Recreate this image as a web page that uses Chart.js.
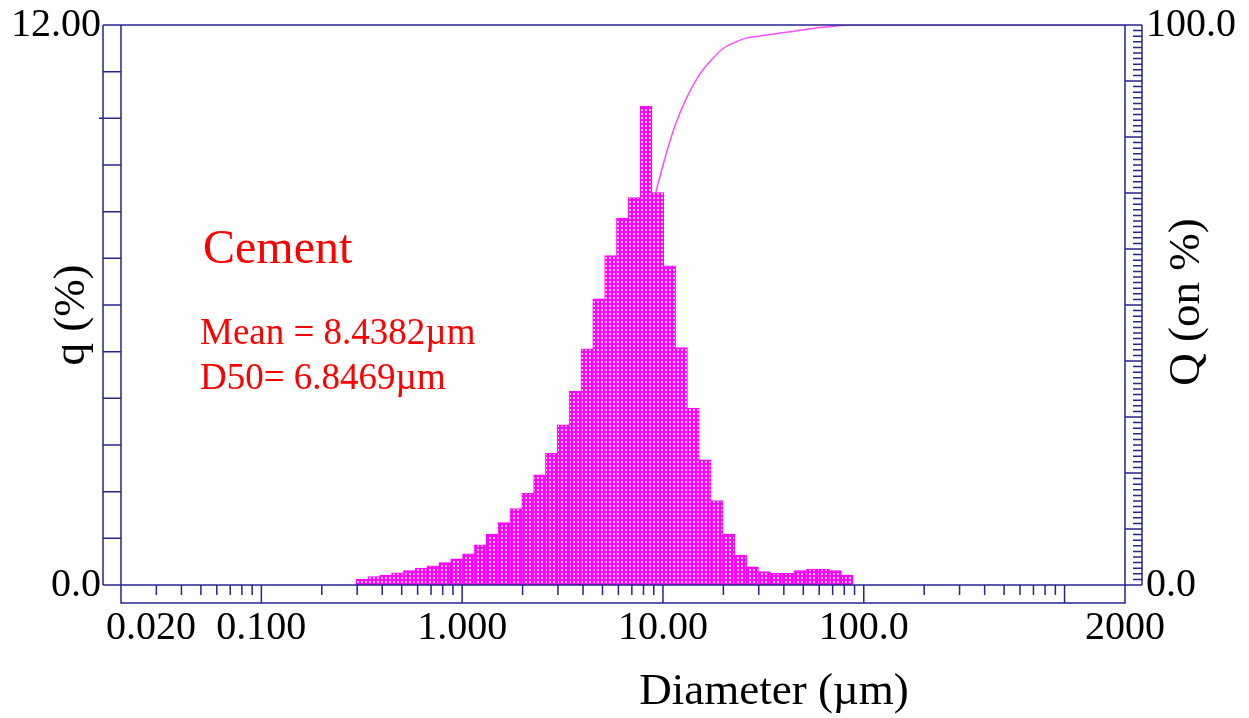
<!DOCTYPE html>
<html>
<head>
<meta charset="utf-8">
<script src="https://cdn.jsdelivr.net/npm/chart.js@4/dist/chart.umd.min.js"></script>
<style>
  html, body { margin: 0; padding: 0; background: #fff; }
  #wrap { width: 1249px; height: 718px; }
</style>
</head>
<body>
<div id="wrap"><canvas id="psd"></canvas></div>
<script>
// analyser channel edges (um), only the occupied ones
const binEdges = [0.296, 0.339, 0.389, 0.445, 0.510, 0.584, 0.669, 0.766, 0.877, 1.005,
  1.151, 1.318, 1.510, 1.729, 1.981, 2.269, 2.599, 2.976, 3.409, 3.905,
  4.472, 5.122, 5.867, 6.720, 7.697, 8.816, 10.097, 11.565, 13.246, 15.172,
  17.377, 19.904, 22.797, 26.111, 29.907, 34.255, 39.234, 44.938, 51.471, 58.953,
  67.523, 77.339, 88.583];

// q (%) per channel
const qPercent = [0.12, 0.18, 0.21, 0.26, 0.31, 0.36, 0.41, 0.48, 0.56, 0.67,
  0.86, 1.09, 1.34, 1.64, 1.97, 2.36, 2.82, 3.43, 4.15, 5.06,
  6.13, 7.06, 7.86, 8.30, 10.26, 8.41, 6.84, 5.09, 3.79, 2.68,
  1.81, 1.09, 0.64, 0.39, 0.29, 0.25, 0.25, 0.31, 0.34, 0.34,
  0.31, 0.21];

// Q (on %) read at the channel edges, last point at 2000 um
const cumSizes = binEdges.concat([2000]);
const cumPercent = [0, 0.1, 0.3, 0.5, 0.8, 1.1, 1.4, 1.8, 2.3, 2.8,
  3.5, 4.3, 5.4, 6.7, 8.3, 10.3, 12.6, 15.4, 18.8, 22.9,
  27.9, 34.0, 41.0, 48.8, 57.0, 67.2, 75.5, 82.3, 87.3, 91.1,
  93.7, 95.8, 96.9, 97.7, 98.0, 98.3, 98.6, 98.9, 99.2, 99.5,
  99.7, 99.9, 100.0, 100.0];

const xTickValues = [0.02, 0.1, 1, 10, 100, 2000];
// first label sits to the right of the axis end in the original print
const xTickLabels = ['      0.020', '0.100', '1.000', '10.00', '100.0', '2000'];
const yTickValues = [0, 12];
const yTickLabels = ['0.0', '12.00'];
const y2TickValues = [0, 100];
const y2TickLabels = ['0.0', '100.0'];

const NAVY = '#26268f';
const MAG = '#ff00ff';
const SERIF = '"Liberation Serif", "Times New Roman", serif';

// hatch fill like the analyser print-out
const pc = document.createElement('canvas');
pc.width = 4; pc.height = 4;
const pctx = pc.getContext('2d');
pctx.fillStyle = MAG;
pctx.fillRect(0, 0, 4, 4);
pctx.fillStyle = '#ffc8ff';
pctx.fillRect(1, 1, 2, 2);
const hatch = pctx.createPattern(pc, 'repeat');

const barData = qPercent.map((q, i) => ({ x: Math.sqrt(binEdges[i] * binEdges[i + 1]), y: q }));
const lineData = cumPercent.map((c, i) => ({ x: cumSizes[i], y: c }));

const frame = {
  id: 'frame',
  afterDraw(chart) {
    const { ctx, chartArea: a, scales } = chart;
    const L = a.left, R = a.right, T = a.top, B = a.bottom;
    const outL = L - 18, outR = R + 17, low = B + 18;
    ctx.save();
    ctx.strokeStyle = NAVY;
    ctx.lineWidth = 1.5;
    ctx.beginPath();
    ctx.rect(L, T, R - L, low - T);
    ctx.moveTo(outL, T); ctx.lineTo(outR, T);
    ctx.moveTo(outL, T); ctx.lineTo(outL, B);
    ctx.moveTo(outL, B); ctx.lineTo(outR, B);
    ctx.moveTo(outR, T); ctx.lineTo(outR, B);
    // left ticks
    for (let v = 1; v < 12; v++) {
      const y = scales.y.getPixelForValue(v);
      ctx.moveTo(v === 10 ? outL - 4 : outL, y); ctx.lineTo(L, y);
    }
    // right ticks
    for (let v = 1; v < 100; v++) {
      const y = scales.y2.getPixelForValue(v);
      ctx.moveTo(v % 10 === 0 ? R : outR - 9, y); ctx.lineTo(outR, y);
    }
    // bottom ticks
    [0.01, 0.1, 1, 10, 100, 1000].forEach(d => {
      for (let k = 1; k < 10; k++) {
        const v = k * d;
        if (v <= 0.02 || v >= 2000) continue;
        const x = scales.x.getPixelForValue(v);
        ctx.moveTo(x, B); ctx.lineTo(x, k === 1 ? low : B + 10);
      }
    });
    ctx.stroke();

    // axis titles
    ctx.fillStyle = '#000';
    ctx.font = '45px ' + SERIF;
    ctx.textAlign = 'center';
    ctx.textBaseline = 'middle';
    ctx.fillText('Diameter (\u00b5m)', 774, 692);
    ctx.save();
    ctx.translate(72, 315); ctx.rotate(-Math.PI / 2);
    ctx.fillText('q (%)', 0, 0);
    ctx.restore();
    ctx.save();
    ctx.translate(1187, 302); ctx.rotate(-Math.PI / 2);
    ctx.fillText('Q (on %)', 0, 0);
    ctx.restore();

    // sample notes
    ctx.fillStyle = '#ff0000';
    ctx.textAlign = 'left';
    ctx.textBaseline = 'alphabetic';
    ctx.font = '48px ' + SERIF;
    ctx.fillText('Cement', 203, 263);
    ctx.font = '37px ' + SERIF;
    ctx.fillText('Mean = 8.4382\u00b5m', 200, 344);
    ctx.fillText('D50= 6.8469\u00b5m', 200, 389);
    ctx.restore();
  }
};

const tickFont = { family: SERIF, size: 40 };

new Chart(document.getElementById('psd'), {
  type: 'bar',
  data: {
    datasets: [{
      type: 'bar',
      data: barData,
      backgroundColor: hatch,
      borderColor: MAG,
      borderWidth: 1,
      barPercentage: 1,
      categoryPercentage: 1,
      yAxisID: 'y',
      order: 1
    }, {
      type: 'line',
      data: lineData,
      borderColor: '#ff4dff',
      borderWidth: 1.5,
      pointRadius: 0,
      fill: false,
      cubicInterpolationMode: 'monotone',
      yAxisID: 'y2',
      order: 2
    }]
  },
  options: {
    responsive: true,
    maintainAspectRatio: false,
    animation: false,
    layout: { padding: { top: 25, left: 0, right: 0, bottom: 0 } },
    plugins: { legend: { display: false }, tooltip: { enabled: false } },
    scales: {
      x: {
        type: 'logarithmic',
        min: 0.02,
        max: 2000,
        position: 'bottom',
        grid: { display: false, drawTicks: false },
        border: { display: false },
        afterBuildTicks: s => { s.ticks = xTickValues.map(v => ({ value: v })); },
        afterFit: s => { s.height = 133; s.paddingLeft = 0; s.paddingRight = 0; },
        ticks: {
          autoSkip: false, maxRotation: 0, padding: 19, color: '#000', font: tickFont,
          callback: (v, i) => xTickLabels[i]
        }
      },
      y: {
        type: 'linear',
        min: 0,
        max: 12,
        position: 'left',
        grid: { display: false, drawTicks: false },
        border: { display: false },
        afterBuildTicks: s => { s.ticks = yTickValues.map(v => ({ value: v })); },
        afterFit: s => { s.width = 121; s.paddingTop = 0; s.paddingBottom = 0; },
        ticks: { padding: 20, color: '#000', font: tickFont, callback: (v, i) => yTickLabels[i] }
      },
      y2: {
        type: 'linear',
        min: 0,
        max: 100,
        position: 'right',
        grid: { display: false, drawTicks: false },
        border: { display: false },
        afterBuildTicks: s => { s.ticks = y2TickValues.map(v => ({ value: v })); },
        afterFit: s => { s.width = 124; s.paddingTop = 0; s.paddingBottom = 0; },
        ticks: { padding: 21, color: '#000', font: tickFont, callback: (v, i) => y2TickLabels[i] }
      }
    }
  },
  plugins: [frame]
});
</script>
</body>
</html>
